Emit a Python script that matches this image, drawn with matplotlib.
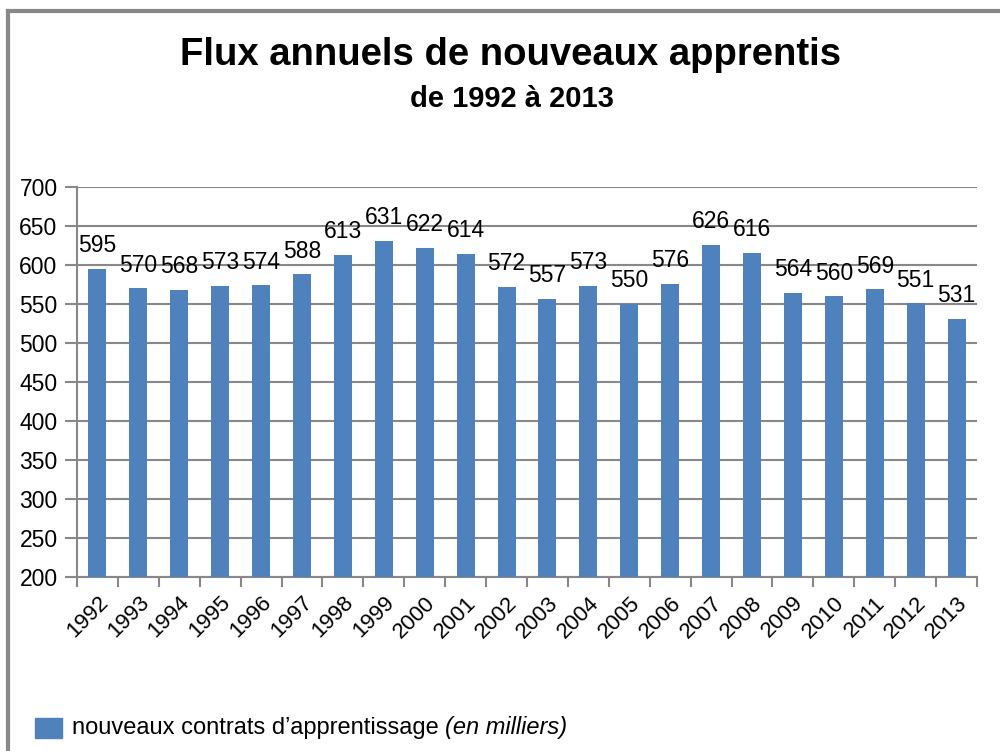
import matplotlib.pyplot as plt
from matplotlib.lines import Line2D
from matplotlib.patches import Rectangle
import numpy as np

plt.rcParams['font.family'] = ['Liberation Sans', 'DejaVu Sans']

# Data (thousands of new apprenticeship contracts)
years = [str(y) for y in range(1992, 2014)]
values = [595, 570, 568, 573, 574, 588, 613, 631, 622, 614, 572,
          557, 573, 550, 576, 626, 616, 564, 560, 569, 551, 531]

bar_color = '#4F81BD'
grid_color = '#888888'

fig = plt.figure(figsize=(10, 7.51), dpi=100)
ax = fig.add_axes([0.077, 0.2317, 0.900, 0.5193])

x = np.arange(len(years))
ax.bar(x, values, width=0.44, color=bar_color, zorder=3)

# value labels above bars
for xi, v in zip(x, values):
    ax.annotate(str(v), xy=(xi, v), xytext=(0, 12), textcoords='offset points',
                ha='center', va='baseline', fontsize=16.5, zorder=4)

ax.set_xlim(-0.5, len(years) - 0.5)
ax.set_ylim(200, 700)
ax.set_yticks(np.arange(200, 701, 50))
ax.tick_params(axis='y', labelsize=16.5, length=9, color=grid_color, width=1.5, pad=5)
ax.yaxis.grid(True, color=grid_color, linewidth=1.5, zorder=0)

# category ticks between bars, labels centred under bars
ax.set_xticks(np.arange(-0.5, len(years), 1.0))
ax.set_xticklabels([])
ax.set_xticks(x, minor=True)
ax.set_xticklabels(years, minor=True, rotation=45, ha='right',
                   rotation_mode='anchor', fontsize=16)
ax.tick_params(axis='x', which='major', length=7, color=grid_color, width=1.5)
ax.tick_params(axis='x', which='minor', length=0, pad=11)

for side in ['top', 'right']:
    ax.spines[side].set_visible(False)
for side in ['left', 'bottom']:
    ax.spines[side].set_color(grid_color)
    ax.spines[side].set_linewidth(1.5)

# titles
fig.text(0.511, 1 - 65 / 751, 'Flux annuels de nouveaux apprentis', ha='center',
         va='baseline', fontsize=27.5, fontweight='bold')
fig.text(0.512, 1 - 107 / 751, 'de 1992 à 2013', ha='center', va='baseline',
         fontsize=21, fontweight='bold')

# legend
fig.patches.append(Rectangle((0.035, 1 - 738 / 751), 0.027, 20 / 751,
                             transform=fig.transFigure, color=bar_color))
t1 = fig.text(0.072, 1 - 734 / 751, 'nouveaux contrats d\u2019apprentissage ',
              ha='left', va='baseline', fontsize=17)
ax.annotate('(en milliers)', xy=(1, 0), xycoords=t1, xytext=(0, 0),
            textcoords='offset points', ha='left', va='bottom',
            fontsize=17, style='italic', annotation_clip=False)

# outer frame (top and left only, like the source crop)
fig.add_artist(Line2D([0.0075, 1.0], [1 - 10.5 / 751, 1 - 10.5 / 751],
                      transform=fig.transFigure, color=grid_color, linewidth=3))
fig.add_artist(Line2D([0.0075, 0.0075], [0, 1 - 10.5 / 751],
                      transform=fig.transFigure, color=grid_color, linewidth=3))

fig.savefig('out.png', dpi=100)
